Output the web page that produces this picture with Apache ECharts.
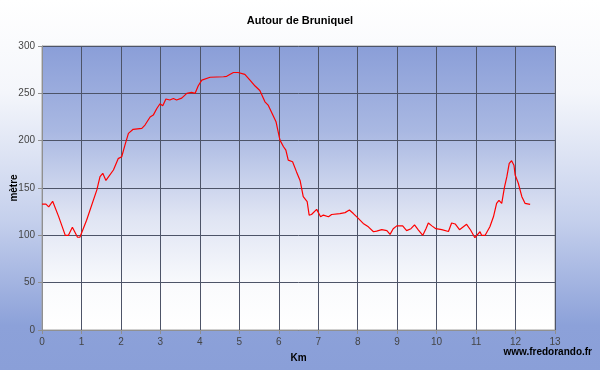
<!DOCTYPE html>
<html>
<head>
<meta charset="utf-8">
<script src="https://cdn.jsdelivr.net/npm/echarts@6/dist/echarts.min.js"></script>
<style>
  html, body { margin: 0; padding: 0; }
  #main { width: 600px; height: 370px; }
</style>
</head>
<body>
<div id="main"></div>
<script>
"use strict";
// distance (km) and altitude (m) read from the profile
let kmValues = [0, 0.1, 0.17, 0.27, 0.42, 0.59, 0.67, 0.77, 0.9, 0.96,
  1.13, 1.39, 1.47, 1.54, 1.62, 1.81, 1.93, 2.02, 2.1, 2.19,
  2.31, 2.53, 2.61, 2.74, 2.82, 2.91, 2.99, 3.06, 3.14, 3.24,
  3.33, 3.41, 3.54, 3.67, 3.79, 3.88, 3.96, 4.05, 4.26, 4.6,
  4.68, 4.85, 4.97, 5.14, 5.27, 5.4, 5.52, 5.65, 5.73, 5.93,
  6.03, 6.12, 6.18, 6.24, 6.35, 6.45, 6.54, 6.62, 6.72, 6.77,
  6.83, 6.96, 7.06, 7.13, 7.26, 7.34, 7.55, 7.68, 7.79, 7.89,
  7.99, 8.02, 8.14, 8.27, 8.4, 8.48, 8.61, 8.74, 8.82, 8.9,
  8.99, 9.14, 9.24, 9.35, 9.44, 9.54, 9.65, 9.73, 9.79, 9.88,
  9.92, 9.98, 10.13, 10.3, 10.38, 10.47, 10.58, 10.76, 10.86, 10.97,
  11.1, 11.14, 11.23, 11.35, 11.44, 11.52, 11.58, 11.65, 11.72, 11.78,
  11.84, 11.9, 11.96, 11.99, 12.07, 12.16, 12.24, 12.37];
let altitudes = [133, 133, 130, 136, 120, 100, 100, 108.5, 98, 98,
  116, 148, 162, 165.5, 158, 169, 181, 183, 195, 207.7,
  212, 213, 216.5, 225, 227, 234, 239, 237, 244, 243,
  244.6, 243, 245, 250, 251, 250, 258, 264, 267, 267.5,
  268, 272, 272, 270, 264, 257.7, 253, 241, 237.6, 220,
  200.6, 193.6, 190, 179.5, 177.7, 167, 158, 140.8, 135.5, 121.4,
  122, 127.4, 119.6, 121.4, 119.6, 122, 123, 124, 126.7, 123,
  119, 120, 112.6, 109, 103.8, 104.5, 106, 105, 101, 107,
  110, 110, 105, 107, 111, 105.6, 100, 107, 113, 110,
  112, 107, 106, 104, 113, 112, 106, 111.6, 105.6, 97.5,
  103.8, 100, 100, 109, 119.6, 133.8, 137, 133.8, 151, 162,
  176, 178.8, 174, 163.7, 155, 140.8, 133.8, 132.7];

let profile = [];
for (let i = 0; i < kmValues.length; i++) {
  profile.push([kmValues[i], altitudes[i]]);
}

let myChart = echarts.init(document.getElementById('main'));
let option = {
  backgroundColor: new echarts.graphic.LinearGradient(0, 0, 0, 1, [
    { offset: 0, color: '#ffffff' },
    { offset: 0.25, color: '#f4f6fb' },
    { offset: 0.6, color: '#c4cfec' },
    { offset: 0.88, color: '#8ca1d9' },
    { offset: 1, color: '#8a9fd8' }
  ]),
  animation: false,
  title: {
    text: 'Autour de Bruniquel',
    left: 'center',
    top: 10,
    textStyle: { fontFamily: 'Liberation Sans', fontSize: 11, fontWeight: 'bold', color: '#000' }
  },
  grid: {
    left: 42, right: 45, top: 46, bottom: 40,
    outerBoundsMode: 'none',
    containLabel: false,
    show: true,
    borderColor: '#a0a0a0',
    borderWidth: 1,
    backgroundColor: new echarts.graphic.LinearGradient(0, 0, 0, 1, [
      { offset: 0, color: '#8a9ed8' },
      { offset: 0.3, color: '#a9b8e2' },
      { offset: 0.6, color: '#dfe4f3' },
      { offset: 0.85, color: '#fafbfd' },
      { offset: 1, color: '#ffffff' }
    ])
  },
  xAxis: {
    type: 'value',
    min: 0, max: 13, interval: 1,
    name: 'Km',
    nameLocation: 'middle',
    nameGap: 23,
    nameMoveOverlap: false,
    nameTextStyle: { fontFamily: 'Liberation Sans', fontSize: 10, fontWeight: 'bold', color: '#000' },
    axisLine: { show: true, lineStyle: { color: '#909090' } },
    axisTick: { show: true, length: 4, lineStyle: { color: '#909090' } },
    axisLabel: { fontFamily: 'Liberation Sans', fontSize: 10, color: '#444', margin: 7 },
    splitLine: { show: true, lineStyle: { color: '#4d5468', width: 1 } }
  },
  yAxis: {
    type: 'value',
    min: 0, max: 300, interval: 50,
    name: 'mètre',
    nameLocation: 'middle',
    nameGap: 23,
    nameMoveOverlap: false,
    nameTextStyle: { fontFamily: 'Liberation Sans', fontSize: 10, fontWeight: 'bold', color: '#000' },
    axisLine: { show: true, lineStyle: { color: '#909090' } },
    axisTick: { show: true, length: 4, lineStyle: { color: '#909090' } },
    axisLabel: { fontFamily: 'Liberation Sans', fontSize: 10, color: '#444', margin: 7 },
    splitLine: { show: true, lineStyle: { color: '#4d5468', width: 1 } }
  },
  graphic: [{
    type: 'text',
    right: 8,
    top: 347,
    style: {
      text: 'www.fredorando.fr',
      font: 'bold 10px "Liberation Sans"',
      fill: '#000'
    }
  }],
  series: [{
    type: 'line',
    data: profile,
    showSymbol: false,
    smooth: false,
    lineStyle: { color: '#ff0000', width: 1.2 }
  }]
};
myChart.setOption(option);
</script>
</body>
</html>
